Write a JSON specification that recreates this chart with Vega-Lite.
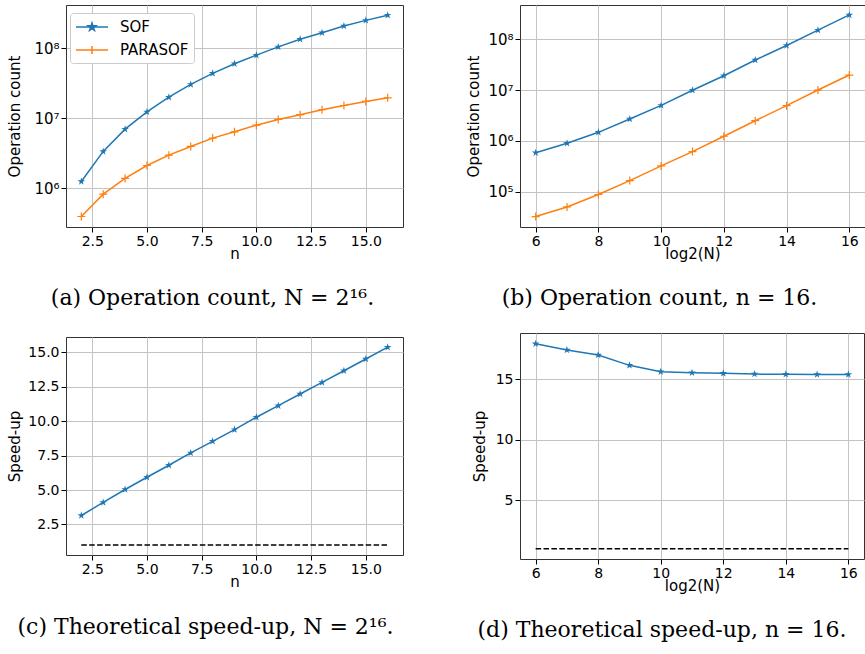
{
  "$schema": "https://vega.github.io/schema/vega-lite/v6.json",
  "background": "white",
  "padding": {"left": 6, "top": 4, "right": 0, "bottom": 0},
  "bounds": "full",
  "spacing": 61,
  "datasets": {
    "opn": [
      {"n": 2, "series": "SOF", "count": 1260000}, {"n": 3, "series": "SOF", "count": 3380000},
      {"n": 4, "series": "SOF", "count": 7030000}, {"n": 5, "series": "SOF", "count": 12400000},
      {"n": 6, "series": "SOF", "count": 20100000}, {"n": 7, "series": "SOF", "count": 30600000},
      {"n": 8, "series": "SOF", "count": 44000000}, {"n": 9, "series": "SOF", "count": 60300000},
      {"n": 10, "series": "SOF", "count": 80000000}, {"n": 11, "series": "SOF", "count": 105000000},
      {"n": 12, "series": "SOF", "count": 135000000}, {"n": 13, "series": "SOF", "count": 167000000},
      {"n": 14, "series": "SOF", "count": 208000000}, {"n": 15, "series": "SOF", "count": 251000000},
      {"n": 16, "series": "SOF", "count": 298000000},
      {"n": 2, "series": "PARASOF", "count": 398000}, {"n": 3, "series": "PARASOF", "count": 830000},
      {"n": 4, "series": "PARASOF", "count": 1390000}, {"n": 5, "series": "PARASOF", "count": 2130000},
      {"n": 6, "series": "PARASOF", "count": 2990000}, {"n": 7, "series": "PARASOF", "count": 3980000},
      {"n": 8, "series": "PARASOF", "count": 5240000}, {"n": 9, "series": "PARASOF", "count": 6440000},
      {"n": 10, "series": "PARASOF", "count": 8000000}, {"n": 11, "series": "PARASOF", "count": 9680000},
      {"n": 12, "series": "PARASOF", "count": 11300000}, {"n": 13, "series": "PARASOF", "count": 13300000},
      {"n": 14, "series": "PARASOF", "count": 15300000}, {"n": 15, "series": "PARASOF", "count": 17500000},
      {"n": 16, "series": "PARASOF", "count": 19700000}
    ],
    "opN": [
      {"logN": 6, "series": "SOF", "count": 590000}, {"logN": 7, "series": "SOF", "count": 900000},
      {"logN": 8, "series": "SOF", "count": 1480000}, {"logN": 9, "series": "SOF", "count": 2700000},
      {"logN": 10, "series": "SOF", "count": 5000000}, {"logN": 11, "series": "SOF", "count": 9900000},
      {"logN": 12, "series": "SOF", "count": 19100000}, {"logN": 13, "series": "SOF", "count": 38800000},
      {"logN": 14, "series": "SOF", "count": 75000000}, {"logN": 15, "series": "SOF", "count": 150000000},
      {"logN": 16, "series": "SOF", "count": 298000000},
      {"logN": 6, "series": "PARASOF", "count": 32900}, {"logN": 7, "series": "PARASOF", "count": 50700},
      {"logN": 8, "series": "PARASOF", "count": 89000}, {"logN": 9, "series": "PARASOF", "count": 167000},
      {"logN": 10, "series": "PARASOF", "count": 324000}, {"logN": 11, "series": "PARASOF", "count": 620000},
      {"logN": 12, "series": "PARASOF", "count": 1240000}, {"logN": 13, "series": "PARASOF", "count": 2500000},
      {"logN": 14, "series": "PARASOF", "count": 4940000}, {"logN": 15, "series": "PARASOF", "count": 10000000},
      {"logN": 16, "series": "PARASOF", "count": 19700000}
    ],
    "spn": [
      {"n": 2, "series": "SOF", "speedup": 3.15}, {"n": 3, "series": "SOF", "speedup": 4.10},
      {"n": 4, "series": "SOF", "speedup": 5.04}, {"n": 5, "series": "SOF", "speedup": 5.93},
      {"n": 6, "series": "SOF", "speedup": 6.80}, {"n": 7, "series": "SOF", "speedup": 7.70},
      {"n": 8, "series": "SOF", "speedup": 8.54}, {"n": 9, "series": "SOF", "speedup": 9.39},
      {"n": 10, "series": "SOF", "speedup": 10.29}, {"n": 11, "series": "SOF", "speedup": 11.13},
      {"n": 12, "series": "SOF", "speedup": 11.98}, {"n": 13, "series": "SOF", "speedup": 12.82},
      {"n": 14, "series": "SOF", "speedup": 13.67}, {"n": 15, "series": "SOF", "speedup": 14.52},
      {"n": 16, "series": "SOF", "speedup": 15.38},
      {"n": 2, "series": "base", "speedup": 1}, {"n": 16, "series": "base", "speedup": 1}
    ],
    "spN": [
      {"logN": 6, "series": "SOF", "speedup": 17.91}, {"logN": 7, "series": "SOF", "speedup": 17.39},
      {"logN": 8, "series": "SOF", "speedup": 16.98}, {"logN": 9, "series": "SOF", "speedup": 16.13},
      {"logN": 10, "series": "SOF", "speedup": 15.60}, {"logN": 11, "series": "SOF", "speedup": 15.52},
      {"logN": 12, "series": "SOF", "speedup": 15.47}, {"logN": 13, "series": "SOF", "speedup": 15.41},
      {"logN": 14, "series": "SOF", "speedup": 15.39}, {"logN": 15, "series": "SOF", "speedup": 15.38},
      {"logN": 16, "series": "SOF", "speedup": 15.38},
      {"logN": 6, "series": "base", "speedup": 1}, {"logN": 16, "series": "base", "speedup": 1}
    ]
  },
  "hconcat": [
    {
      "bounds": "flush",
      "spacing": 110,
      "vconcat": [
        {
          "width": 337, "height": 222,
          "data": {"name": "opn"},
          "title": {"text": "(a) Operation count, N = 2¹⁶.", "dx": -22, "offset": 27},
          "encoding": {
            "x": {"field": "n", "type": "quantitative", "scale": {"domain": [1.3, 16.7], "nice": false, "zero": false},
                  "axis": {"title": "n", "values": [2.5, 5, 7.5, 10, 12.5, 15], "format": ".1f"}},
            "y": {"field": "count", "type": "quantitative", "scale": {"type": "log", "domain": [282000, 416000000], "nice": false},
                  "axis": {"title": "Operation count", "values": [1000000, 10000000, 100000000], "labelFontSize": 15,
                           "labelExpr": "datum.value >= 1e8 ? '10⁸' : datum.value >= 1e7 ? '10⁷' : datum.value >= 1e6 ? '10⁶' : '10⁵'",
                           "minExtent": 37, "maxExtent": 37, "titlePadding": 7}}
          },
          "layer": [
            {"mark": {"type": "line", "strokeWidth": 1.5},
             "encoding": {"color": {"field": "series", "type": "nominal",
               "scale": {"domain": ["SOF", "PARASOF"], "range": ["#1f77b4", "#ff7f0e"]},
               "legend": {"orient": "none", "legendX": 4, "legendY": 8, "title": null, "direction": "vertical",
                 "strokeColor": "#cccccc", "fillColor": "white", "cornerRadius": 3, "padding": 5, "rowPadding": 6,
                 "labelFont": "DejaVu Sans", "labelFontSize": 15, "labelColor": "#000", "labelOffset": 27, "symbolSize": 256, "symbolStrokeWidth": 1.5,
                 "encode": {"symbols": {"update": {
                   "shape": {"signal": "datum.value === 'SOF' ? 'M-1,0L3,0M1,-0.5L1.1125,-0.1545L1.4755,-0.1545L1.1815,0.059L1.294,0.4045L1,0.191L0.706,0.4045L0.8185,0.059L0.5245,-0.1545L0.8875,-0.1545Z' : 'M-1,0L3,0M1,-0.5L1,0.5'"},
                   "fill": {"signal": "datum.value === 'SOF' ? '#1f77b4' : 'transparent'"},
                   "stroke": {"signal": "datum.value === 'SOF' ? '#1f77b4' : '#ff7f0e'"},
                   "strokeWidth": {"value": 1.5},
                   "opacity": {"value": 1}}}}}}}},
            {"transform": [{"filter": "datum.series === 'SOF'"}],
             "mark": {"type": "point", "shape": "M0,-1L0.225,-0.309L0.951,-0.309L0.363,0.118L0.588,0.809L0,0.382L-0.588,0.809L-0.363,0.118L-0.951,-0.309L-0.225,-0.309Z", "size": 64, "filled": true, "color": "#1f77b4", "opacity": 1}},
            {"transform": [{"filter": "datum.series === 'PARASOF'"}],
             "mark": {"type": "point", "shape": "M-1,0L1,0M0,-1L0,1", "size": 64, "filled": false, "color": "#ff7f0e", "strokeWidth": 1.2, "opacity": 1}}
          ]
        },
        {
          "width": 337, "height": 218,
          "data": {"name": "spn"},
          "title": {"text": "(c) Theoretical speed-up, N = 2¹⁶.", "dx": -29, "offset": 28},
          "encoding": {
            "x": {"field": "n", "type": "quantitative", "scale": {"domain": [1.3, 16.7], "nice": false, "zero": false},
                  "axis": {"title": "n", "values": [2.5, 5, 7.5, 10, 12.5, 15], "format": ".1f"}},
            "y": {"field": "speedup", "type": "quantitative", "scale": {"domain": [0.28, 16.12], "nice": false, "zero": false},
                  "axis": {"title": "Speed-up", "values": [2.5, 5, 7.5, 10, 12.5, 15], "format": ".1f",
                           "minExtent": 37, "maxExtent": 37, "titlePadding": 7}}
          },
          "layer": [
            {"transform": [{"filter": "datum.series === 'SOF'"}],
             "mark": {"type": "line", "strokeWidth": 1.5, "color": "#1f77b4"}, "encoding": {}},
            {"transform": [{"filter": "datum.series === 'SOF'"}],
             "mark": {"type": "point", "shape": "M0,-1L0.225,-0.309L0.951,-0.309L0.363,0.118L0.588,0.809L0,0.382L-0.588,0.809L-0.363,0.118L-0.951,-0.309L-0.225,-0.309Z", "size": 64, "filled": true, "color": "#1f77b4", "opacity": 1}},
            {"transform": [{"filter": "datum.series === 'base'"}],
             "mark": {"type": "line", "strokeWidth": 1.5, "color": "#000000", "strokeDash": [5.5, 2.4]}, "encoding": {}}
          ]
        }
      ]
    },
    {
      "bounds": "flush",
      "spacing": 106,
      "vconcat": [
        {
          "width": 345, "height": 222,
          "data": {"name": "opN"},
          "title": {"text": "(b) Operation count, n = 16.", "dx": -33, "offset": 27},
          "encoding": {
            "x": {"field": "logN", "type": "quantitative", "scale": {"domain": [5.5, 16.5], "nice": false, "zero": false},
                  "axis": {"title": "log2(N)", "values": [6, 8, 10, 12, 14, 16]}},
            "y": {"field": "count", "type": "quantitative", "scale": {"type": "log", "domain": [20500, 467000000], "nice": false},
                  "axis": {"title": "Operation count", "values": [100000, 1000000, 10000000, 100000000], "labelFontSize": 15,
                           "labelExpr": "datum.value >= 1e8 ? '10⁸' : datum.value >= 1e7 ? '10⁷' : datum.value >= 1e6 ? '10⁶' : '10⁵'",
                           "minExtent": 34, "maxExtent": 34, "titlePadding": 5}}
          },
          "layer": [
            {"mark": {"type": "line", "strokeWidth": 1.5},
             "encoding": {"color": {"field": "series", "type": "nominal",
               "scale": {"domain": ["SOF", "PARASOF"], "range": ["#1f77b4", "#ff7f0e"]},
               "legend": {"orient": "none", "legendX": 12, "legendY": 7, "title": null, "direction": "vertical",
                 "strokeColor": "#cccccc", "fillColor": "white", "cornerRadius": 3, "padding": 5, "rowPadding": 6,
                 "labelFont": "DejaVu Sans", "labelFontSize": 15, "labelColor": "#000", "labelOffset": 27, "symbolSize": 256, "symbolStrokeWidth": 1.5,
                 "encode": {"symbols": {"update": {
                   "shape": {"signal": "datum.value === 'SOF' ? 'M-1,0L3,0M1,-0.5L1.1125,-0.1545L1.4755,-0.1545L1.1815,0.059L1.294,0.4045L1,0.191L0.706,0.4045L0.8185,0.059L0.5245,-0.1545L0.8875,-0.1545Z' : 'M-1,0L3,0M1,-0.5L1,0.5'"},
                   "fill": {"signal": "datum.value === 'SOF' ? '#1f77b4' : 'transparent'"},
                   "stroke": {"signal": "datum.value === 'SOF' ? '#1f77b4' : '#ff7f0e'"},
                   "strokeWidth": {"value": 1.5},
                   "opacity": {"value": 1}}}}}}}},
            {"transform": [{"filter": "datum.series === 'SOF'"}],
             "mark": {"type": "point", "shape": "M0,-1L0.225,-0.309L0.951,-0.309L0.363,0.118L0.588,0.809L0,0.382L-0.588,0.809L-0.363,0.118L-0.951,-0.309L-0.225,-0.309Z", "size": 64, "filled": true, "color": "#1f77b4", "opacity": 1}},
            {"transform": [{"filter": "datum.series === 'PARASOF'"}],
             "mark": {"type": "point", "shape": "M-1,0L1,0M0,-1L0,1", "size": 64, "filled": false, "color": "#ff7f0e", "strokeWidth": 1.2, "opacity": 1}}
          ]
        },
        {
          "width": 344, "height": 226,
          "data": {"name": "spN"},
          "title": {"text": "(d) Theoretical speed-up, n = 16.", "dx": -30, "offset": 27},
          "encoding": {
            "x": {"field": "logN", "type": "quantitative", "scale": {"domain": [5.5, 16.5], "nice": false, "zero": false},
                  "axis": {"title": "log2(N)", "values": [6, 8, 10, 12, 14, 16]}},
            "y": {"field": "speedup", "type": "quantitative", "scale": {"domain": [0.15, 18.8], "nice": false, "zero": false},
                  "axis": {"title": "Speed-up", "values": [5, 10, 15],
                           "minExtent": 27, "maxExtent": 27, "titlePadding": 6}}
          },
          "layer": [
            {"transform": [{"filter": "datum.series === 'SOF'"}],
             "mark": {"type": "line", "strokeWidth": 1.5, "color": "#1f77b4"}, "encoding": {}},
            {"transform": [{"filter": "datum.series === 'SOF'"}],
             "mark": {"type": "point", "shape": "M0,-1L0.225,-0.309L0.951,-0.309L0.363,0.118L0.588,0.809L0,0.382L-0.588,0.809L-0.363,0.118L-0.951,-0.309L-0.225,-0.309Z", "size": 64, "filled": true, "color": "#1f77b4", "opacity": 1}},
            {"transform": [{"filter": "datum.series === 'base'"}],
             "mark": {"type": "line", "strokeWidth": 1.5, "color": "#000000", "strokeDash": [5.5, 2.4]}, "encoding": {}}
          ]
        }
      ]
    }
  ],
  "config": {
    "view": {"stroke": "#333333", "strokeWidth": 1},
    "axis": {
      "labelFont": "DejaVu Sans", "titleFont": "DejaVu Sans", "labelFontSize": 14, "titleFontSize": 15,
      "titleFontWeight": "normal", "labelColor": "#000000", "titleColor": "#000000",
      "tickColor": "#000000", "tickSize": 5, "tickWidth": 1, "domain": false,
      "gridColor": "#c4c4c4", "gridWidth": 1, "labelPadding": 2, "labelFlush": false, "labelOverlap": false
    },
    "axisX": {"titlePadding": -2},
    "title": {"font": "DejaVu Serif", "fontSize": 22, "fontWeight": "normal", "color": "#000000", "orient": "bottom", "anchor": "middle", "frame": "group"}
  }
}
